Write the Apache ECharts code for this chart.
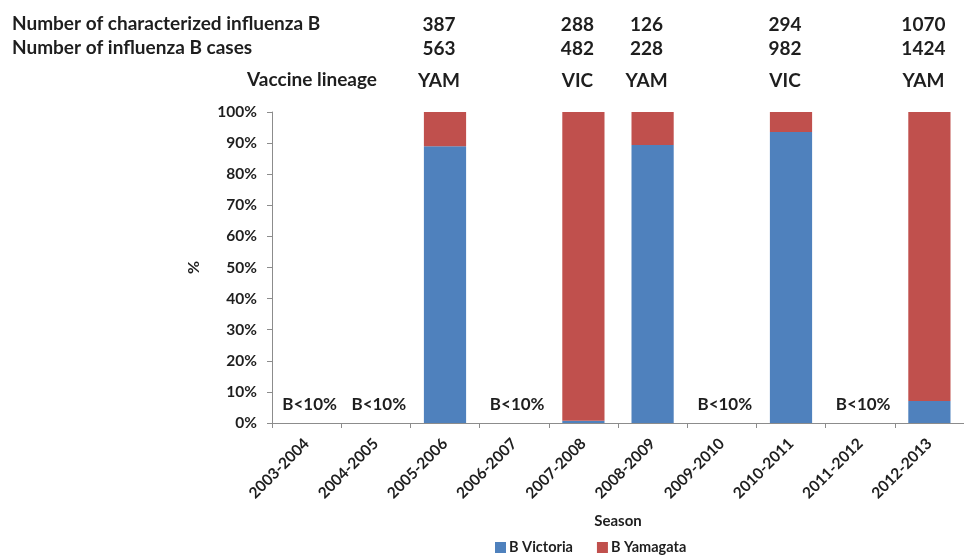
<!DOCTYPE html>
<html>
<head>
<meta charset="utf-8">
<script src="https://cdn.jsdelivr.net/npm/echarts@6/dist/echarts.min.js"></script>
<style>
  html, body { margin: 0; padding: 0; background: #fff; }
  #chart { width: 964px; height: 556px; }
</style>
</head>
<body>
<div id="chart"></div>
<script>
// ---- Data ----
const seasons = ['2003-2004','2004-2005','2005-2006','2006-2007','2007-2008','2008-2009','2009-2010','2010-2011','2011-2012','2012-2013'];
const victoria = [null, null, 89, null, 0.7, 89.4, null, 93.6, null, 7.1];
const yamagata = [null, null, 11, null, 99.3, 10.6, null, 6.4, null, 92.9];
const lowSeasons = ['2003-2004','2004-2005','2006-2007','2009-2010','2011-2012'];
const lowLabelText = 'B<10%';
const lowLabelLevel = 6;

const headerSeasons = ['2005-2006','2007-2008','2008-2009','2010-2011','2012-2013'];
const characterized = [387, 288, 126, 294, 1070];
const cases = [563, 482, 228, 982, 1424];
const lineage = ['YAM', 'VIC', 'YAM', 'VIC', 'YAM'];
const rowTitles = ['Number of characterized influenza B', 'Number of influenza B cases', 'Vaccine lineage'];
const yTicks = [0, 10, 20, 30, 40, 50, 60, 70, 80, 90, 100];

const FONT = 'Lato';
const TXT = '#1e1e1e';

const chart = echarts.init(document.getElementById('chart'), null, { renderer: 'canvas' });

const option = {
  animation: false,
  backgroundColor: '#fff',
  textStyle: { fontFamily: FONT },
  grid: { left: 272, top: 112, width: 703, height: 311, containLabel: false },
  legend: {
    data: ['B Victoria', 'B Yamagata'],
    left: 495, top: 540, padding: 0,
    itemWidth: 11, itemHeight: 11, itemGap: 24,
    icon: 'rect',
    textStyle: { fontFamily: FONT, fontSize: 14.5, fontWeight: 'bold', color: TXT, padding: [0, 0, 0, -2] }
  },
  xAxis: {
    type: 'category',
    data: seasons,
    name: 'Season',
    nameLocation: 'middle',
    nameGap: 91,
    nameTextStyle: { fontFamily: FONT, fontSize: 15, fontWeight: 'bold', color: TXT },
    axisLine: { lineStyle: { color: '#8c8c8c', width: 1 } },
    axisTick: { show: true, length: 5, lineStyle: { color: '#8c8c8c' } },
    axisLabel: { rotate: 45, margin: 18, fontFamily: FONT, fontSize: 15.5, fontWeight: 'bold', color: TXT, interval: 0 }
  },
  yAxis: {
    type: 'value',
    min: 0, max: 100, interval: 10,
    name: '%',
    nameLocation: 'middle',
    nameRotate: 90,
    nameGap: 70,
    nameTextStyle: { fontFamily: FONT, fontSize: 16, fontWeight: 'bold', color: TXT },
    axisLine: { show: true, lineStyle: { color: '#8c8c8c', width: 1 } },
    axisTick: { show: true, length: 5, lineStyle: { color: '#8c8c8c' } },
    splitLine: { show: false },
    axisLabel: {
      margin: 15, fontFamily: FONT, fontSize: 15.5, fontWeight: 'bold', color: TXT,
      formatter: v => (yTicks.indexOf(v) >= 0 ? v + '%' : '')
    }
  },
  series: [
    {
      name: 'B Victoria', type: 'bar', stack: 'b', barWidth: '61%',
      itemStyle: { color: '#4F81BD' },
      data: victoria
    },
    {
      name: 'B Yamagata', type: 'bar', stack: 'b', barWidth: '61%',
      itemStyle: { color: '#C0504D' },
      data: yamagata
    },
    {
      name: 'low', type: 'scatter', silent: true,
      symbolSize: 0,
      itemStyle: { opacity: 1 },
      data: lowSeasons.map(s => [s, lowLabelLevel]),
      label: {
        show: true, position: 'inside', offset: [3, 0],
        formatter: () => lowLabelText,
        fontFamily: FONT, fontSize: 17, fontWeight: 'bold', color: TXT, opacity: 1
      }
    }
  ]
};
chart.setOption(option);

// Header table aligned with category columns
const rowY = [25, 49, 81];
const headerText = [];
rowTitles.forEach((t, i) => {
  headerText.push({
    type: 'text',
    left: i < 2 ? 12 : null,
    right: i < 2 ? null : 964 - 377,
    top: rowY[i] - 11,
    style: { text: t, font: 'bold 19px ' + FONT, fill: TXT }
  });
});
const rows = [characterized, cases, lineage];
headerSeasons.forEach((s, j) => {
  const cx = chart.convertToPixel({ xAxisIndex: 0 }, s) - 6;
  rows.forEach((r, i) => {
    headerText.push({
      type: 'text',
      x: cx, y: rowY[i],
      style: { text: String(r[j]), font: 'bold 19px ' + FONT, fill: TXT, align: 'center', verticalAlign: 'middle' }
    });
  });
});
chart.setOption({ graphic: headerText });
</script>
</body>
</html>
